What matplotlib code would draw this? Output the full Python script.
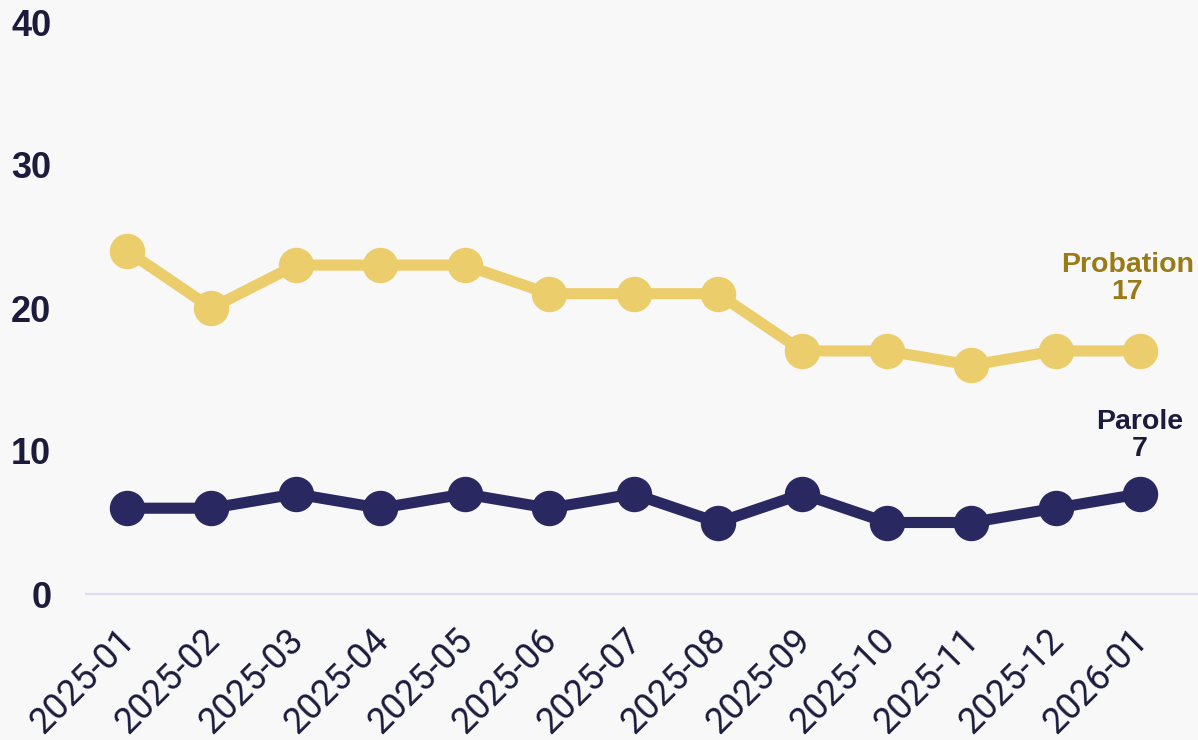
import matplotlib
matplotlib.use("Agg")
import matplotlib.pyplot as plt
import matplotlib.transforms as mtransforms

months = ["2025-01", "2025-02", "2025-03", "2025-04", "2025-05", "2025-06", "2025-07",
          "2025-08", "2025-09", "2025-10", "2025-11", "2025-12", "2026-01"]
probation = [24, 20, 23, 23, 23, 21, 21, 21, 17, 17, 16, 17, 17]
parole = [6, 6, 7, 6, 7, 6, 7, 5, 7, 5, 5, 6, 7]
yticks = [0, 10, 20, 30, 40]

plt.rcParams['font.family'] = ['Liberation Sans', 'DejaVu Sans']

bg = "#F8F8F8"
yellow = "#ECCD6B"
navy = "#2A2860"
text_dark = "#1C1B3C"

fig = plt.figure(figsize=(11.98, 7.40), dpi=100, facecolor=bg)
ax = fig.add_axes([86 / 1198, 1 - 594 / 740, 1112 / 1198, (594 - 22) / 740])
ax.set_facecolor(bg)

x = list(range(len(months)))
ax.plot(x, probation, color=yellow, lw=8, marker="o", ms=24.5, solid_capstyle="round", zorder=3)
ax.plot(x, parole, color=navy, lw=8, marker="o", ms=24.5, solid_capstyle="round", zorder=3)

unit = (1140 - 127) / 12
ax.set_xlim(-(127 - 86) / unit, 12 + (1198 - 1140) / unit)
ax.set_ylim(0, 40)
ax.set_yticks(yticks)
ax.set_yticklabels([str(v) for v in yticks], fontsize=26, fontweight="bold", color=text_dark)
ax.set_xticks(x)
ax.set_xticklabels(months, rotation=45, ha="right", rotation_mode="anchor",
                   fontsize=26, color=text_dark, family=["Roboto", "DejaVu Sans"])
ax.tick_params(axis="both", length=0)
ax.tick_params(axis="y", pad=25)
ax.tick_params(axis="x", pad=20)
shift = mtransforms.ScaledTranslation(-10 / 100, 0, fig.dpi_scale_trans)
for lab in ax.get_xticklabels():
    lab.set_transform(lab.get_transform() + shift)
for s in ["top", "right", "left"]:
    ax.spines[s].set_visible(False)
ax.spines["bottom"].set_color("#DCDAF2")
ax.spines["bottom"].set_linewidth(1.5)
ax.spines["bottom"].set_zorder(1)

ax.annotate(f"Probation\n{probation[-1]}", xy=(x[-1], probation[-1]), xytext=(-9, 33),
            textcoords="offset points", ha="center", va="bottom", fontsize=20.5,
            fontweight="bold", color="#9A7A16", linespacing=1.05)
ax.annotate(f"Parole\n{parole[-1]}", xy=(x[-1], parole[-1]), xytext=(0, 23),
            textcoords="offset points", ha="center", va="bottom", fontsize=20.5,
            fontweight="bold", color=text_dark, linespacing=1.05)

fig.savefig("out.png", dpi=100, facecolor=bg)
